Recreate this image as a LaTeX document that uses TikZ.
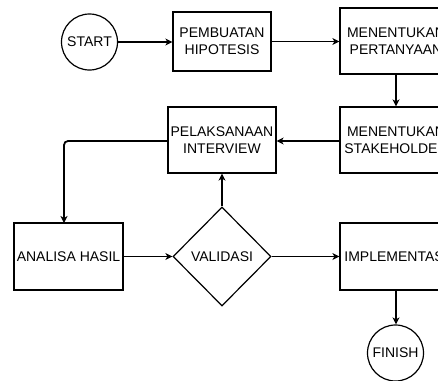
\documentclass[tikz,border=0pt]{standalone}
\usepackage{fontspec}
\setmainfont{Liberation Sans}
\usetikzlibrary{arrows.meta,shapes.geometric}
\begin{document}
\begin{tikzpicture}[x=1pt,y=-1pt,
  every node/.style={font=\fontsize{14}{16.5}\selectfont, align=center, inner sep=0pt},
  box/.style={draw, line width=1.2pt, rectangle},
  term/.style={draw, line width=1.2pt, circle, minimum size=56pt},
  dec/.style={draw, line width=1.2pt, diamond, minimum width=98pt, minimum height=99pt, aspect=1},
  conn/.style={line width=1.8pt, -{Stealth[length=7pt,width=7pt,inset=2pt]}}]
\useasboundingbox (0,0) rectangle (438,380);
\clip (0,0) rectangle (438,380);
\node[term] (start) at (89.5,42) {START};
\node[box, minimum width=98pt, minimum height=59pt] (hipo) at (222,41.5) {PEMBUATAN\\HIPOTESIS};
\node[box, minimum width=112pt, minimum height=66pt] (pert) at (396,41) {MENENTUKAN\\PERTANYAAN};
\node[box, minimum width=112pt, minimum height=66pt] (stake) at (396,140) {MENENTUKAN\\STAKEHOLDER};
\node[box, minimum width=108pt, minimum height=66pt] (inter) at (222,140) {PELAKSANAAN\\INTERVIEW};
\node[box, minimum width=109pt, minimum height=67pt] (anal) at (68.5,256.5) {ANALISA HASIL};
\node[dec] (valid) at (222,256.5) {VALIDASI};
\node[box, minimum width=112pt, minimum height=67pt] (impl) at (396,256.5) {IMPLEMENTASI};
\node[term] (finish) at (395.5,353) {FINISH};
\coordinate (corner) at (64,141);
\coordinate (analtop) at (64,223);
\draw[conn] (start.east) -- (hipo.west|-start.east);
\draw[conn] (hipo.east) -- (pert.west|-hipo.east);
\draw[conn] (pert.south) -- (stake.north);
\draw[conn] (stake.west|-corner) -- (inter.east|-corner);
\draw[conn, rounded corners=4pt] (inter.west|-corner) -- (corner) -- (analtop);
\draw[conn] (valid.north) -- (inter.south);
\draw[conn] (anal.east) -- (valid.west);
\draw[conn] (valid.east) -- (impl.west);
\draw[conn] (impl.south) -- (impl.south|-finish.north);
\end{tikzpicture}
\end{document}
